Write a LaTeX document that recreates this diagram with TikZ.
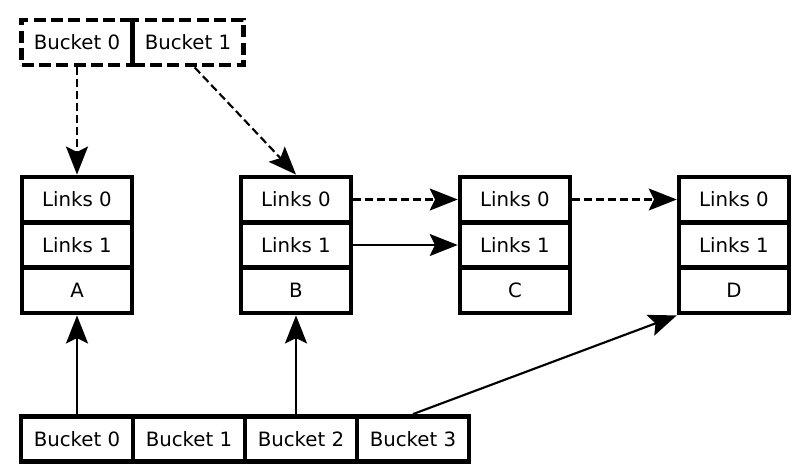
\documentclass[tikz,border=0pt]{standalone}
\usepackage{fontspec}
\setmainfont{DejaVu Sans}
\usetikzlibrary{arrows.meta}
\begin{document}
\begin{tikzpicture}[x=0.75pt,y=-0.75pt,
  box/.style={draw,line width=3.4pt,rectangle,inner sep=0pt,minimum width=82.5pt,minimum height=34pt,font=\fontsize{14.8}{17}\selectfont},
  dbox/.style={box,dash pattern=on 9pt off 4pt,minimum width=83pt},
  bbox/.style={box,minimum width=84pt},
  arr/.style={line width=1.6pt,-{Stealth[length=21pt,width=16.5pt,inset=4pt]}},
  darr/.style={arr,dash pattern=on 6pt off 3pt}]
\useasboundingbox (0,0) rectangle (808,472);
% top buckets
\node[dbox] (t0) at (77,42.5) {Bucket 0};
\node[dbox] (t1) at (188,42.5) {Bucket 1};
% element stacks
\node[box] (a0) at (77,199.5) {Links 0};
\node[box] (a1) at (77,245) {Links 1};
\node[box] (a2) at (77,290.5) {A};
\node[box] (b0) at (296,199.5) {Links 0};
\node[box] (b1) at (296,245) {Links 1};
\node[box] (b2) at (296,290.5) {B};
\node[box] (c0) at (515,199.5) {Links 0};
\node[box] (c1) at (515,245) {Links 1};
\node[box] (c2) at (515,290.5) {C};
\node[box] (d0) at (734,199.5) {Links 0};
\node[box] (d1) at (734,245) {Links 1};
\node[box] (d2) at (734,290.5) {D};
% bottom buckets
\node[bbox] (u0) at (77,439) {Bucket 0};
\node[bbox] (u1) at (189,439) {Bucket 1};
\node[bbox] (u2) at (301,439) {Bucket 2};
\node[bbox] (u3) at (413,439) {Bucket 3};
% connectors
\draw[darr] (t0.south) -- (a0.north);
\draw[darr] ([xshift=5pt]t1.south) -- (b0.north);
\draw[darr] (b0.east) -- (c0.west);
\draw[darr] (c0.east) -- (d0.west);
\draw[arr] (b1.east) -- (c1.west);
\draw[arr] (u0.north) -- (a2.south);
\draw[arr] (u2.north -| b2.south) -- (b2.south);
\draw[arr] (u3.north) -- (d2.south west);
\end{tikzpicture}
\end{document}
